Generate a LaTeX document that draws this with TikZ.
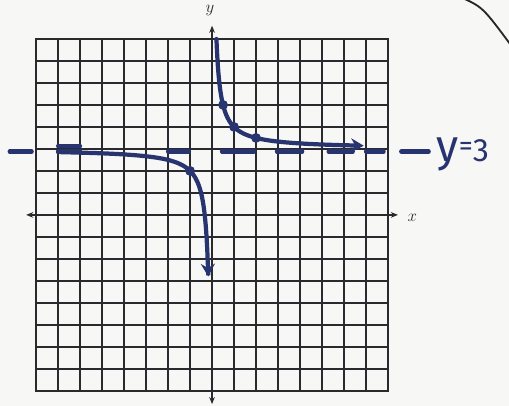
\documentclass[tikz,border=0pt]{standalone}
\usepackage{fontspec}
\newfontfamily\handfont{Fira Sans}
\usetikzlibrary{arrows.meta}
\definecolor{ink}{HTML}{27346F}
\definecolor{gridc}{HTML}{2A2A2E}
\definecolor{paper}{HTML}{F7F7F5}
\begin{document}
\begin{tikzpicture}[x=0.55cm,y=0.55cm,
  gridline/.style={gridc, line width=0.95pt},
  axisline/.style={gridc, line width=1.2pt, {Stealth[length=5pt,width=4pt]}-{Stealth[length=5pt,width=4pt]}},
  curve/.style={ink, line width=3pt, line cap=round},
  asym/.style={ink, line width=3pt, line cap=round},
  dotmark/.style={circle, fill=ink, inner sep=0pt, minimum size=7pt},
  axlabel/.style={font=\large, text=gridc},
  handlabel/.style={text=ink, inner sep=0pt, font=\handfont}]
\fill[paper] (-9.64,-8.68) rectangle (13.5,9.77);
\useasboundingbox (-9.64,-8.68) rectangle (13.5,9.77);
% grid
\draw[gridline, step=0.55cm] (-8,-8) grid (8,8);
\draw[gridline, line width=1.2pt] (-8,-8) rectangle (8,8);
% axes
\draw[axisline] (-8.45,0) -- (8.45,0);
\draw[axisline] (0,-8.6) -- (0,8.6);
\node[axlabel] (xl) at (9.1,-0.15) {$x$};
\node[axlabel] (yl) at (-0.1,9.3) {$y$};
% asymptote y=3 (hand-drawn dashes)
\foreach \a/\b in {-9.2/-8.2, -7.0/-6.0, -2.0/-1.05, 0.45/1.9, 2.95/4.1, 5.3/6.4, 7.0/7.8, 8.6/9.85}
  \draw[asym] (\a,2.88) -- (\b,2.88);
\draw[asym] (-7.0,3.12) -- (-6.0,3.12);
% branches of y = 3 + 1/x
\draw[curve, -{Stealth[length=9pt,width=10pt,inset=3pt]}]
  plot[variable=\t, domain=0.1429:5.8, samples=120, smooth] ({-1/\t},{3-\t});
\draw[curve, {Stealth[length=9pt,width=10pt,inset=3pt]}-]
  plot[variable=\t, domain=0.145:5.0, samples=120, smooth] ({1/\t},{3+\t});
% plotted points
\node[dotmark] (p1) at (-1,2) {};
\node[dotmark] (p2) at (0.5,5) {};
\node[dotmark] (p3) at (1,4) {};
\node[dotmark] (p4) at (2,3.5) {};
% label
\node[handlabel, anchor=base west] (lab) at (10.2,2.45)
  {\fontsize{32}{32}\selectfont y\raisebox{4pt}{\fontsize{20}{20}\selectfont =}\fontsize{23}{23}\selectfont 3};
% arc in the corner
\draw[black!85, line width=1.3pt] (11.3,9.9) .. controls (12.3,9.45) .. (13.6,7.7);
\end{tikzpicture}
\end{document}
